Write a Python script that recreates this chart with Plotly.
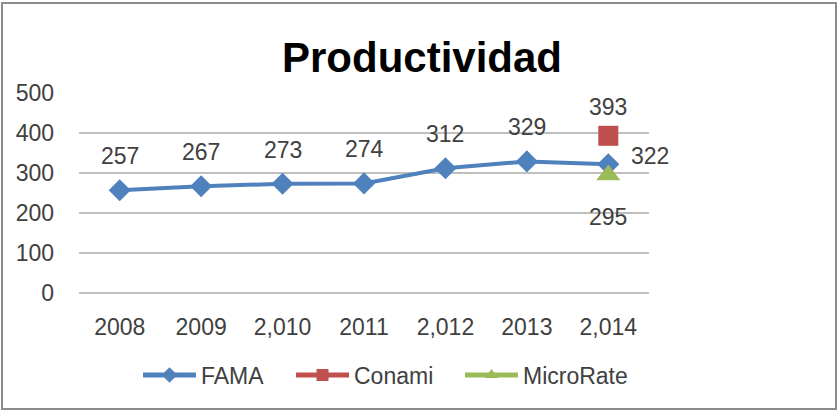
import plotly.graph_objects as go

categories = ["2008", "2009", "2,010", "2011", "2,012", "2013", "2,014"]
fama = [257, 267, 273, 274, 312, 329, 322]
conami_cat = ["2,014"]
conami = [393]
microrate_cat = ["2,014"]
microrate = [295]

FONT = "Liberation Sans, Arial, sans-serif"
TXT = "#404040"
PX0, PW = 79, 570   # plot area left / width in px
PY0, PH = 293, 200  # plot area bottom / height in px

def px(x):
    return (x - PX0) / PW

def py(y):
    return (PY0 - y) / PH

fig = go.Figure()
fig.add_trace(go.Scatter(x=categories, y=fama, name="FAMA", mode="lines+markers",
                         line=dict(color="#4F81BD", width=4),
                         marker=dict(symbol="diamond", size=17, color="#4F81BD"),
                         legend="legend"))
fig.add_trace(go.Scatter(x=conami_cat, y=conami, name="Conami", mode="lines+markers",
                         line=dict(color="#C0504D", width=4),
                         marker=dict(symbol="square", size=20, color="#C0504D"),
                         legend="legend2"))
fig.add_trace(go.Scatter(x=microrate_cat, y=microrate, name="MicroRate", mode="lines+markers",
                         line=dict(color="#9BBB59", width=4),
                         marker=dict(symbol="triangle-up", size=21, color="#9BBB59"),
                         legend="legend3"))

idx = {c: i for i, c in enumerate(categories)}
ann = []
for i, (c, v) in enumerate(zip(categories, fama)):
    if i == len(categories) - 1:
        ann.append(dict(x=idx[c], y=v, text=str(v), xshift=42, yshift=8))
    else:
        ann.append(dict(x=idx[c], y=v, text=str(v), yshift=34))
for c, v in zip(conami_cat, conami):
    ann.append(dict(x=idx[c], y=v, text=str(v), yshift=29))
for c, v in zip(microrate_cat, microrate):
    ann.append(dict(x=idx[c], y=v, text=str(v), yshift=-42))
for a in ann:
    a.update(showarrow=False, font=dict(family=FONT, size=23, color=TXT),
             xref="x", yref="y")

leg_common = dict(orientation="h", yanchor="middle", xanchor="left", y=py(375),
                  font=dict(family=FONT, size=23, color=TXT), itemwidth=53,
                  itemsizing="constant", bgcolor="rgba(0,0,0,0)")

fig.update_layout(
    width=839, height=412,
    margin=dict(l=PX0, r=839 - PX0 - PW, t=PY0 - PH, b=412 - PY0),
    paper_bgcolor="white", plot_bgcolor="white",
    title=dict(text="<b>Productividad</b>", x=0.503, xref="container",
               y=1 - 57 / 412, yref="container", xanchor="center", yanchor="middle",
               font=dict(family=FONT, size=42, color="black")),
    showlegend=True,
    legend=dict(leg_common, x=px(138)),
    legend2=dict(leg_common, x=px(291)),
    legend3=dict(leg_common, x=px(460)),
    annotations=ann,
    xaxis=dict(type="category", range=[-0.5, 6.5], showgrid=False, showline=False,
               ticks="", tickfont=dict(family=FONT, size=23, color=TXT),
               ticklabelstandoff=18),
    yaxis=dict(range=[0, 500], tickvals=[0, 100, 200, 300, 400, 500],
               showgrid=True, gridcolor="#BFBFBF", gridwidth=2, zeroline=True,
               zerolinecolor="#BFBFBF", zerolinewidth=2, showline=False, ticks="",
               tickfont=dict(family=FONT, size=23, color=TXT), ticklabelstandoff=24),
    shapes=[dict(type="rect", xref="paper", yref="paper",
                 x0=px(2), x1=px(836), y0=py(409), y1=py(3),
                 line=dict(color="#8C8C8C", width=2), fillcolor="rgba(0,0,0,0)",
                 layer="below")],
)

fig.write_html("out.html", config={"displayModeBar": False},
               post_script="document.body.style.margin='0';document.body.style.overflow='hidden';")
